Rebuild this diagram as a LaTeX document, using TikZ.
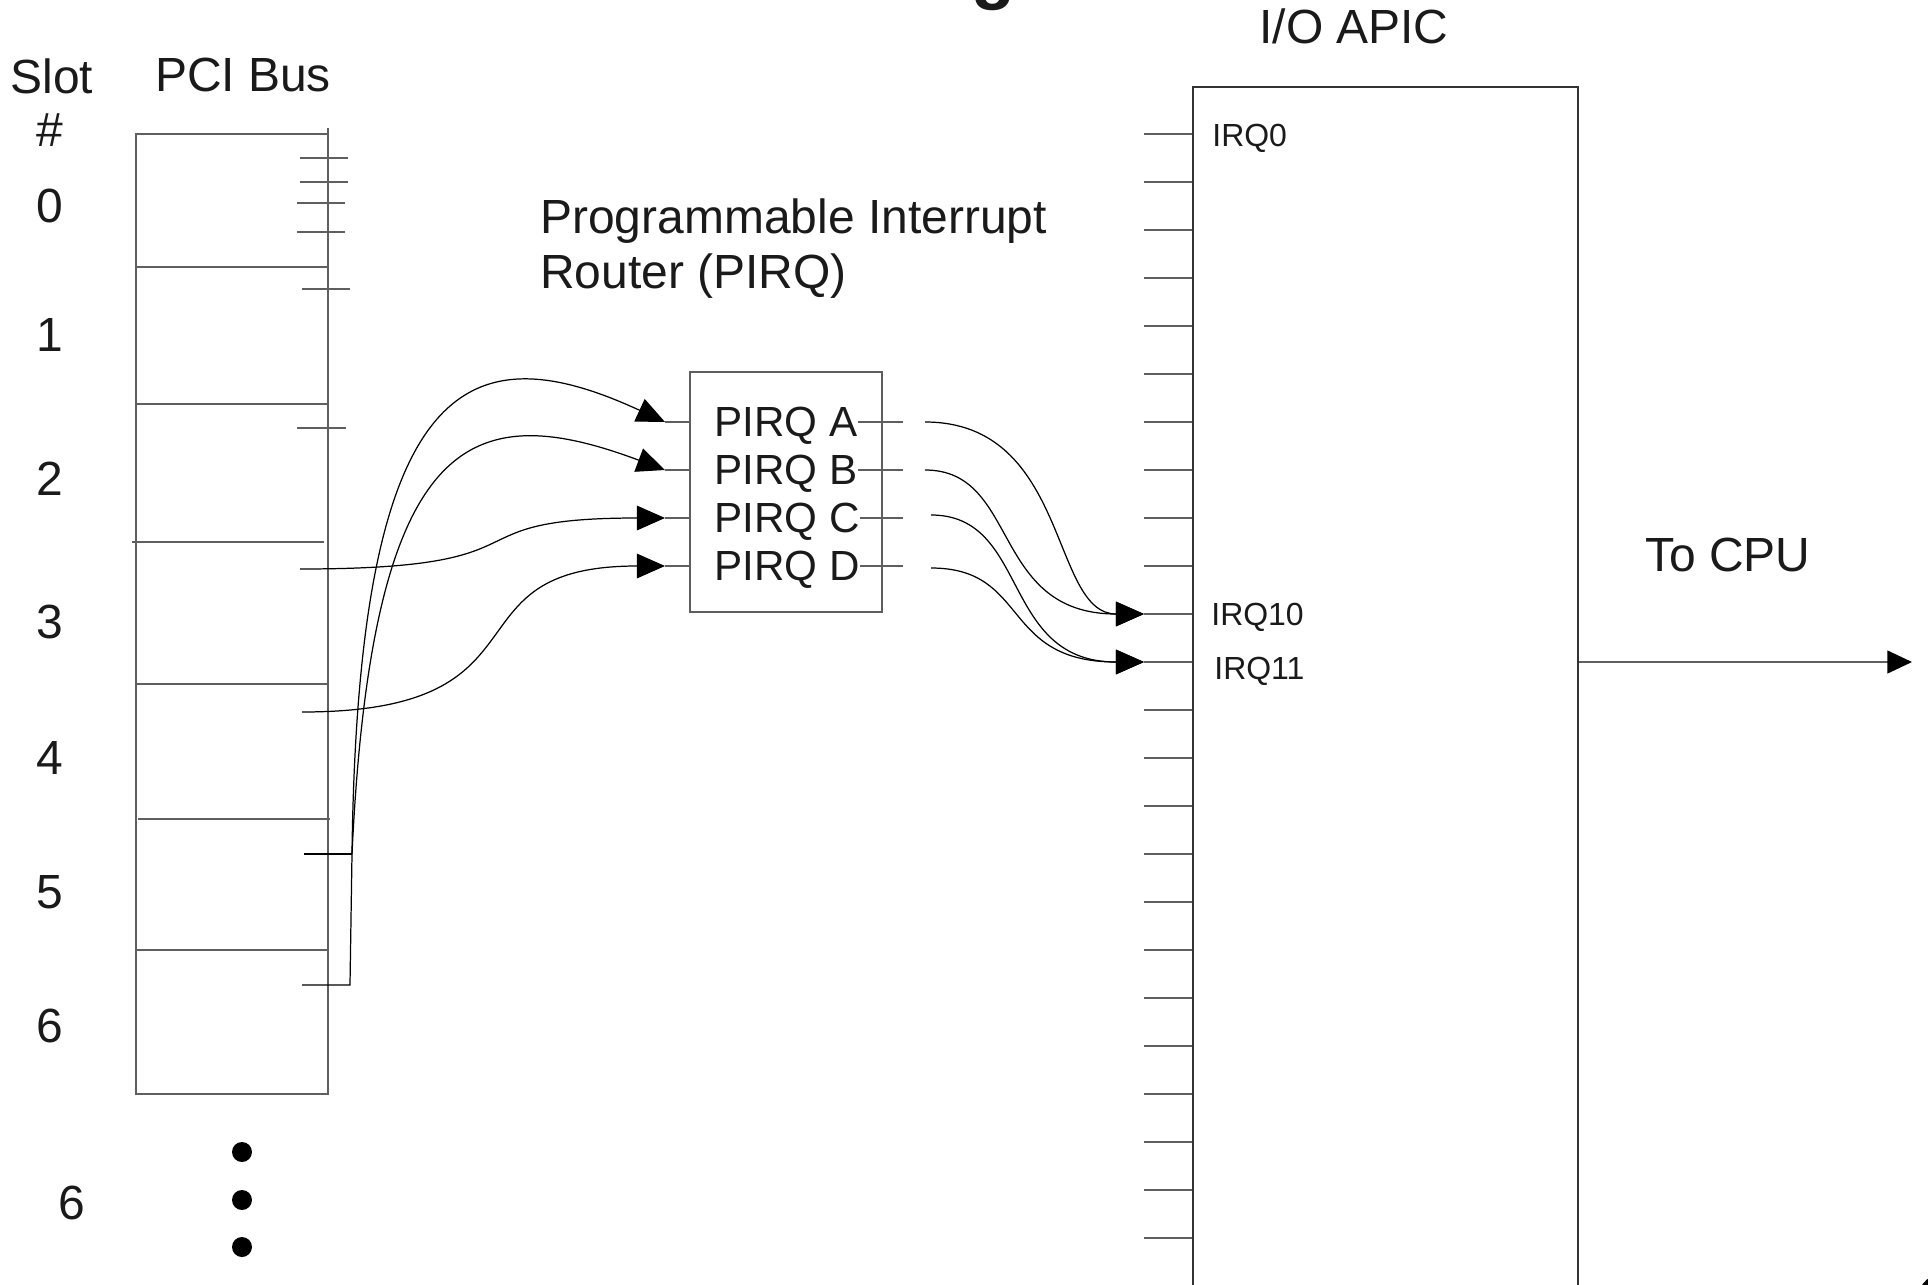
\documentclass[tikz,border=0pt]{standalone}
\usepackage{fontspec}
\setmainfont{Liberation Sans}
\usetikzlibrary{positioning,calc,arrows.meta}
\definecolor{pingray}{RGB}{95,95,95}
\definecolor{inkgray}{RGB}{26,26,26}
\tikzset{
  buswall/.style={draw=pingray, line width=1.1pt},
  buspin/.style={draw=pingray, line width=0.9pt},
  wire/.style={draw=black, line width=0.7pt},
  wirearr/.style={wire, -{Triangle[length=16pt, width=14pt]}},
  biglbl/.style={font=\fontsize{27.3}{31}\selectfont, text=inkgray, inner sep=0pt},
  pirqlbl/.style={font=\fontsize{24}{28}\selectfont, text=inkgray, inner sep=0pt, anchor=base west},
  irqlbl/.style={font=\fontsize{18.2}{21}\selectfont, text=inkgray, inner sep=0pt, anchor=base west},
}
\newcommand{\busR}{328}
\newcommand{\apicL}{1192}

\begin{document}
\begin{tikzpicture}[x=0.02cm, y=-0.02cm]
  \useasboundingbox (0,0) rectangle (1928,1285);
  \clip (0,0) rectangle (1928,1285);

  \node[font=\fontsize{41}{48}\selectfont\bfseries, text=inkgray, inner sep=0pt, anchor=base] (titletail) at (993,-5) {g};

  \node[biglbl, anchor=base] (slothdr) at (52,93) {Slot};
  \node[biglbl, anchor=base] (slothash) at (50,146) {\#};
  \node[biglbl, anchor=base] (pcihdr) at (243,91) {PCI Bus};
  \foreach \n/\yb in {0/222,1/351,2/495,3/638,4/774,5/908,6/1042}
    \node[biglbl, anchor=base] (slot\n) at (50,\yb) {\n};
  \node[biglbl, anchor=base] (slotmore) at (72,1219) {6};

  \draw[buswall] (136,134) rectangle (\busR,1094);
  \draw[buswall] (\busR,128) -- (\busR,134);
  \foreach \y in {267,404,684,950}
    \draw[buswall] (136,\y) -- (\busR,\y);
  \draw[buswall] (132,542) -- (324,542);
  \draw[buswall] (138,819) -- (330,819);
  \foreach \y/\xa/\xb in {158/300/348,182/300/348,203/297/345,232/297/345,289/302/350,428/297/346}
    \draw[buspin] (\xa,\y) -- (\xb,\y);
  \foreach \y in {1152,1200,1247}
    \fill (242,\y) circle (0.2cm);

  \node[biglbl, anchor=base west, align=left] (pirqhdr) at (540,288) {Programmable Interrupt\\Router (PIRQ)};
  \node[draw=pingray, line width=1.1pt, minimum width=3.84cm, minimum height=4.8cm, inner sep=0pt] (pirq) at (786,492) {};
  \foreach \p/\y in {A/422,B/470,C/518,D/566}{
    \coordinate (in\p) at (665,\y);
    \draw[buspin] (in\p) -- (pirq.west |- in\p);
    \node[pirqlbl] (lbl\p) at (714,{\y+14}) {PIRQ \p};
    \coordinate (stub\p) at (903,\y);
    \draw[buspin] (lbl\p.east |- in\p) -- (stub\p);
  }

  \coordinate (s3) at (300,569);
  \coordinate (s4) at (302,712);
  \coordinate (s5) at (304,854);
  \coordinate (s6) at (302,985);
  \coordinate (s56) at (352,854);
  \draw[wire] (s5) -- (s56);
  \draw[wirearr] (s6) -- (350,985) -- (s56) .. controls (358,372) and (470,332) .. (inA);
  \draw[wirearr] (s56) .. controls (372,432) and (470,397) .. (inB);
  \draw[wirearr] (s3) .. controls (560,569) and (440,518) .. (inC);
  \draw[wirearr] (s4) .. controls (560,712) and (440,566) .. (inD);

  \node[biglbl, anchor=base] (apichdr) at (1354,43) {I/O APIC};
  \node[draw=black!80, line width=0.9pt, minimum width=7.7cm, minimum height=24.4cm, inner sep=0pt, anchor=north west] (apic) at (\apicL,86) {};
  \foreach \k in {0,...,23}
    \draw[buspin] (1144,{134+48*\k}) -- (\apicL,{134+48*\k});
  \coordinate (irq10) at (1144,614);
  \coordinate (irq11) at (1144,662);
  \node[irqlbl] (irq0lbl) at (1212,146) {IRQ0};
  \node[irqlbl] (irq10lbl) at (1211,625) {IRQ10};
  \node[irqlbl] (irq11lbl) at (1214,679) {IRQ11};

  \coordinate (srcA) at (925,422);
  \coordinate (srcB) at (925,470);
  \coordinate (srcC) at (931,515);
  \coordinate (srcD) at (931,568);
  \draw[wirearr] (srcA) .. controls (1070,422) and (1050,614) .. (irq10);
  \draw[wirearr] (srcB) .. controls (1020,470) and (990,614) .. (irq10);
  \draw[wirearr] (srcC) .. controls (1030,515) and (1000,662) .. (irq11);
  \draw[wirearr] (srcD) .. controls (1030,568) and (1000,662) .. (irq11);

  \coordinate (cpu) at (1912,662);
  \draw[buspin, -{Triangle[length=14pt, width=13pt, color=black]}] (apic.east |- irq11) -- (cpu);
  \node[biglbl, anchor=base] (cpulbl) at (1728,571) {To CPU};

  \fill (1958,1312) circle (0.9cm);
\end{tikzpicture}
\end{document}
